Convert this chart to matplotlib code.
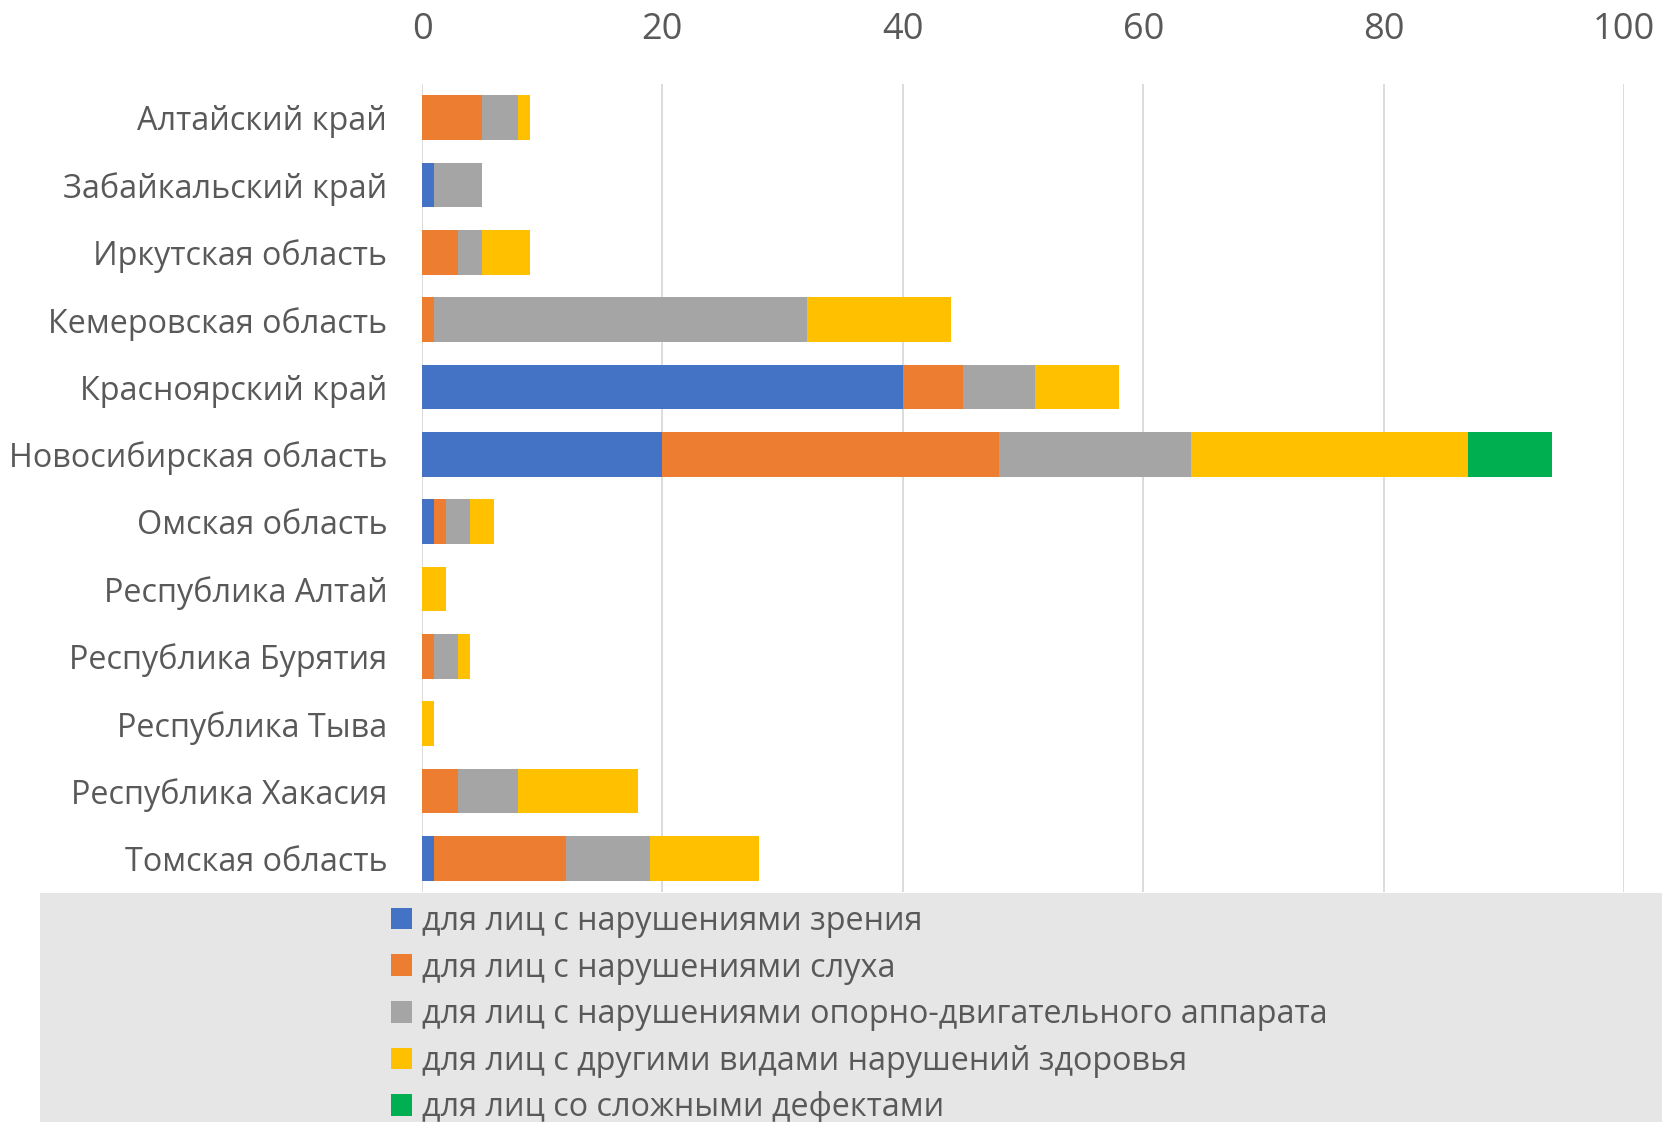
import matplotlib.pyplot as plt
from matplotlib.patches import Rectangle
import numpy as np

plt.rcParams['font.family'] = ['Open Sans', 'DejaVu Sans']

regions = ['Алтайский край', 'Забайкальский край', 'Иркутская область',
           'Кемеровская область', 'Красноярский край', 'Новосибирская область',
           'Омская область', 'Республика Алтай', 'Республика Бурятия',
           'Республика Тыва', 'Республика Хакасия', 'Томская область']

vision = [0, 1, 0, 0, 40, 20, 1, 0, 0, 0, 0, 1]
hearing = [5, 0, 3, 1, 5, 28, 1, 0, 1, 0, 3, 11]
motor = [3, 4, 2, 31, 6, 16, 2, 0, 2, 0, 5, 7]
other = [1, 0, 4, 12, 7, 23, 2, 2, 1, 1, 10, 9]
complex_ = [0, 0, 0, 0, 0, 7, 0, 0, 0, 0, 0, 0]

series = [vision, hearing, motor, other, complex_]
names = ['для лиц с нарушениями зрения',
         'для лиц с нарушениями слуха',
         'для лиц с нарушениями опорно-двигательного аппарата',
         'для лиц с другими видами нарушений здоровья',
         'для лиц со сложными дефектами']
colors = ['#4472c4', '#ed7d31', '#a5a5a5', '#ffc000', '#00b050']
xticks = [0, 20, 40, 60, 80, 100]

fig = plt.figure(figsize=(16.62, 11.22), dpi=100)
# grey legend panel under the plot
fig.patches.append(Rectangle((40 / 1662, 0), 1, 1 - 893 / 1122,
                             transform=fig.transFigure, facecolor='#e6e6e6',
                             edgecolor='none', zorder=0))
ax = fig.add_axes([422 / 1662, 1 - 892 / 1122, 1202 / 1662, 808 / 1122])

y = np.arange(len(regions))
left = np.zeros(len(regions))
handles = []
for vals, name, c in zip(series, names, colors):
    vals = np.array(vals, dtype=float)
    h = ax.barh(y, vals, left=left, height=0.66, color=c, label=name, zorder=3)
    handles.append(h)
    left += vals

ax.set_ylim(len(regions) - 0.5, -0.5)
ax.set_xlim(0, 100)
ax.set_yticks(y)
ax.set_yticklabels(regions)
ax.set_xticks(xticks)
ax.xaxis.tick_top()
ax.tick_params(axis='x', length=0, pad=26, labelsize=26, labelcolor='#595959')
ax.tick_params(axis='y', length=0, pad=25, labelsize=23.3, labelcolor='#595959')
ax.grid(axis='x', color='#d9d9d9', linewidth=1.3, zorder=0)
for s in ax.spines.values():
    s.set_visible(False)
ax.patch.set_alpha(0)

fig.legend(handles, names, loc='upper left',
           bbox_to_anchor=(391 / 1662, 1 - 905 / 1122),
           frameon=False, fontsize=23.3, labelcolor='#595959',
           handlelength=0.65, handleheight=0.65, handletextpad=0.3,
           labelspacing=0.42, borderaxespad=0, borderpad=0)

fig.savefig('out.png', dpi=100)
